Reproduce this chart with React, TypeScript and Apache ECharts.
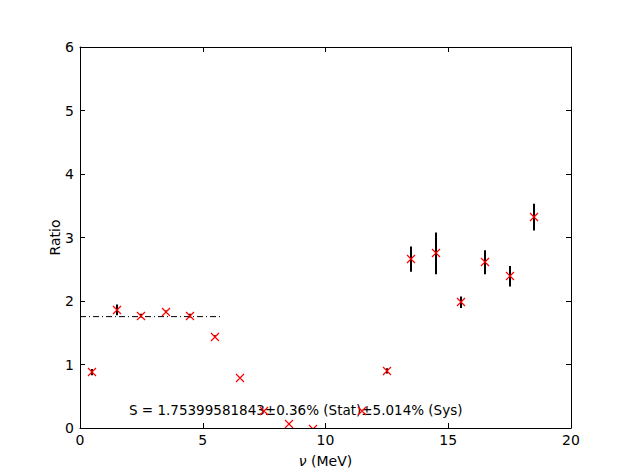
import React, { useEffect, useRef } from "react";
import * as echarts from "echarts";

const energies = [0.5, 1.5, 2.5, 3.5, 4.5, 5.5, 6.5, 7.5, 8.5, 9.5, 10.5, 11.5, 12.5, 13.5, 14.5, 15.5, 16.5, 17.5, 18.5];
const ratios = [0.88, 1.86, 1.77, 1.83, 1.77, 1.44, 0.78, 0.26, 0.06, -0.02, null, 0.27, 0.9, 2.66, 2.75, 1.98, 2.61, 2.39, 3.32];
const errors = [0.05, 0.085, 0.03, 0.02, 0.03, 0.02, 0, 0, 0, 0, null, 0, 0.04, 0.2, 0.33, 0.09, 0.19, 0.16, 0.21];
const fitValue = 1.75399581843;
const fitRange = [0, 5.8];
const xTicks = [0, 5, 10, 15, 20];
const yTicks = [0, 1, 2, 3, 4, 5, 6];
const annotation = "S = 1.75399581843\u00b10.36% (Stat)\u00b15.014% (Sys)";

const FONT = "DejaVu Sans";

export default function App() {
  const ref = useRef<HTMLDivElement>(null);
  useEffect(() => {
    document.body.style.margin = "0";
    if (!ref.current) return;
    const chart = echarts.init(ref.current, null, { renderer: "svg" });
    const pts = energies
      .map((e, i) => [e, ratios[i], errors[i]])
      .filter((d) => d[1] !== null);
    const errPts = pts.filter((d) => (d[2] as number) > 0);
    const axisCommon = {
      axisLine: { show: true, onZero: false, lineStyle: { color: "#000", width: 1 } },
      axisTick: { show: true, inside: true, length: 5, lineStyle: { color: "#000" } },
      splitLine: { show: false },
    };
    chart.setOption({
      animation: false,
      backgroundColor: "#fff",
      grid: { left: 80, right: 63, top: 47, bottom: 48 },
      xAxis: [
        {
          type: "value",
          min: xTicks[0],
          max: xTicks[xTicks.length - 1],
          interval: 5,
          position: "bottom",
          ...axisCommon,
          axisLabel: { color: "#000", fontFamily: FONT, fontSize: 14, margin: 5 },
          name: "{i|\u03bd} (MeV)",
          nameLocation: "middle",
          nameGap: 26,
          nameMoveOverlap: false,
          nameTextStyle: {
            color: "#000",
            fontFamily: FONT,
            fontSize: 14,
            rich: { i: { fontStyle: "italic", fontFamily: FONT, fontSize: 14, color: "#000" } },
          },
        },
        {
          type: "value",
          min: xTicks[0],
          max: xTicks[xTicks.length - 1],
          interval: 5,
          position: "top",
          ...axisCommon,
          axisLabel: { show: false },
        },
      ],
      yAxis: [
        {
          type: "value",
          min: yTicks[0],
          max: yTicks[yTicks.length - 1],
          interval: 1,
          position: "left",
          ...axisCommon,
          axisLabel: { color: "#000", fontFamily: FONT, fontSize: 14, margin: 6 },
          name: "Ratio",
          nameLocation: "middle",
          nameGap: 18,
          nameMoveOverlap: false,
          nameTextStyle: { color: "#000", fontFamily: FONT, fontSize: 14 },
        },
        {
          type: "value",
          min: yTicks[0],
          max: yTicks[yTicks.length - 1],
          interval: 1,
          position: "right",
          ...axisCommon,
          axisLabel: { show: false },
        },
      ],
      graphic: [
        {
          type: "text",
          left: 129,
          top: 403,
          z: 1,
          style: { text: annotation, fontFamily: FONT, fontSize: 13.5, fill: "#000" },
        },
      ],
      series: [
        {
          type: "line",
          data: [
            [fitRange[0], fitValue],
            [fitRange[1], fitValue],
          ],
          symbol: "none",
          lineStyle: { color: "#000", width: 1, type: [6, 3, 1, 3] },
          z: 2,
        },
        {
          type: "custom",
          clip: true,
          z: 4,
          data: errPts,
          renderItem: (params: any, api: any) => {
            const x = api.value(0);
            const y = api.value(1);
            const err = api.value(2);
            const top = api.coord([x, y + err]);
            const bot = api.coord([x, y - err]);
            const px = Math.round(top[0]);
            return {
              type: "line",
              shape: { x1: px, y1: top[1], x2: px, y2: bot[1] },
              style: { stroke: "#000000", lineWidth: 2 },
            };
          },
        },
        {
          type: "custom",
          clip: true,
          z: 6,
          data: pts,
          renderItem: (params: any, api: any) => {
            const c = api.coord([api.value(0), api.value(1)]);
            const cx = Math.round(c[0]);
            const cy = Math.round(c[1]);
            const h = 4;
            return {
              type: "polygon",
              shape: {
                points: [
                  [cx - h, cy - h],
                  [cx + h, cy + h],
                  [cx, cy],
                  [cx - h, cy + h],
                  [cx + h, cy - h],
                  [cx, cy],
                ],
              },
              style: { fill: "none", stroke: "#ff0000", lineWidth: 1.2 },
            };
          },
        },
      ],
    });
    return () => chart.dispose();
  }, []);
  return <div ref={ref} style={{ width: 634, height: 476 }} />;
}
